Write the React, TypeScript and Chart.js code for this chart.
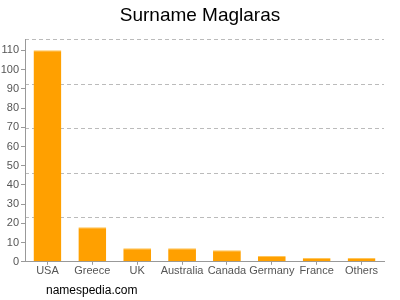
import React, { useEffect, useRef } from "react";
import { Chart, registerables } from "chart.js";

Chart.register(...registerables);

const categories = ["USA", "Greece", "UK", "Australia", "Canada", "Germany", "France", "Others"];
const counts = [110, 18, 7, 7, 6, 3, 2, 2];
const yMax = 115.5;
const yTicks = [0, 10, 20, 30, 40, 50, 60, 70, 80, 90, 100, 110];
const gridDivisions = 5;

const FONT = "'Liberation Sans', Arial, Helvetica, sans-serif";

export default function App() {
  const ref = useRef<HTMLCanvasElement | null>(null);

  useEffect(() => {
    document.body.style.margin = "0";
    const ctx = ref.current!.getContext("2d")!;
    const chart = new Chart(ctx, {
      type: "bar",
      data: {
        labels: categories,
        datasets: [
          {
            data: counts,
            backgroundColor: "#ffa000",
            borderColor: "#ffc55a",
            borderWidth: { top: 1, left: 0, right: 0, bottom: 0 },
            borderSkipped: false,
            barPercentage: 0.62,
            categoryPercentage: 1,
          },
        ],
      },
      options: {
        animation: false,
        responsive: false,
        maintainAspectRatio: false,
        layout: { padding: { left: 0, right: 0, top: 0, bottom: 22 } },
        plugins: {
          legend: { display: false },
          tooltip: { enabled: false },
          title: {
            display: true,
            text: "Surname Maglaras",
            color: "#000",
            font: { family: FONT, size: 19, weight: "normal" },
            padding: { top: 4, bottom: 13 },
          },
        },
        scales: {
          x: {
            grid: {
              display: true,
              drawOnChartArea: false,
              drawTicks: true,
              tickLength: 3,
              offset: false,
              color: "#999",
            },
            border: { display: true, color: "#999" },
            ticks: {
              color: "#555",
              font: { family: FONT, size: 11 },
              padding: 0,
              maxRotation: 0,
              autoSkip: false,
            },
          },
          y: {
            min: 0,
            max: yMax,
            position: "left",
            afterFit: (s: any) => {
              s.width = 25;
            },
            afterBuildTicks: (s: any) => {
              s.ticks = yTicks.map((v) => ({ value: v }));
            },
            ticks: {
              color: "#555",
              font: { family: FONT, size: 11 },
              padding: 2,
            },
            grid: {
              drawOnChartArea: false,
              drawTicks: true,
              tickLength: 4,
              color: "#999",
            },
            border: { display: true, color: "#999" },
          },
          yGrid: {
            min: 0,
            max: yMax,
            position: "right",
            afterFit: (s: any) => {
              s.width = 16;
            },
            afterBuildTicks: (s: any) => {
              s.ticks = Array.from({ length: gridDivisions + 1 }, (_, i) => ({ value: (yMax * i) / gridDivisions }));
            },
            ticks: { display: false },
            grid: {
              drawOnChartArea: true,
              drawTicks: false,
              color: (c: any) => (c.tick && c.tick.value === 0 ? "rgba(0,0,0,0)" : "#bbb"),
            },
            border: { display: false, dash: [4, 3] },
          },
        },
      } as any,
    });
    return () => chart.destroy();
  }, []);

  return (
    <div style={{ position: "relative", width: 400, height: 300 }}>
      <canvas ref={ref} width={400} height={300} style={{ display: "block" }} />
      <div
        style={{
          position: "absolute",
          left: 46,
          top: 284,
          fontFamily: FONT,
          fontSize: 12,
          color: "#000",
          lineHeight: "12px",
        }}
      >
        namespedia.com
      </div>
    </div>
  );
}
